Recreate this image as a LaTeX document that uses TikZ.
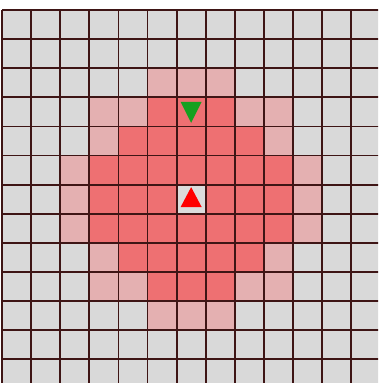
\documentclass[tikz,border=0pt]{standalone}
\usetikzlibrary{calc}
\definecolor{cellgrey}{HTML}{D9D9D9}
\definecolor{cellpink}{HTML}{E4B0B1}
\definecolor{cellred}{HTML}{EE7072}
\definecolor{gridline}{HTML}{3E1515}
\definecolor{goalgreen}{HTML}{16A020}
\definecolor{startred}{HTML}{FF0000}
\definecolor{centergrey}{HTML}{DCDCDC}
\tikzset{
  gridstroke/.style={draw=gridline, line width=1.8pt},
}
\begin{document}
\begin{tikzpicture}[x=1pt,y=-1pt]
\useasboundingbox (0,0) rectangle (378,383);
\clip (0,0) rectangle (378,383);
\def\cs{29.1}
\def\ox{2}
\def\oy{10}
\foreach \i in {0,...,12}{
  \foreach \j in {0,...,12}{
    \pgfmathtruncatemacro{\dd}{(\i-6)*(\i-6)+(\j-6)*(\j-6)}
    \ifnum\dd>18
      \def\cc{cellgrey}
    \else\ifnum\dd>10
      \def\cc{cellpink}
    \else
      \def\cc{cellred}
    \fi\fi
    \ifnum\dd=0 \def\cc{centergrey}\fi
    \fill[\cc] (\ox+\i*\cs,\oy+\j*\cs) rectangle ++(\cs,\cs);
  }
}
\foreach \i in {0,...,13}{
  \draw[gridstroke] (\ox+\i*\cs,\oy) -- (\ox+\i*\cs,\oy+13*\cs);
  \draw[gridstroke] (\ox,\oy+\i*\cs) -- (\ox+13*\cs,\oy+\i*\cs);
}
% goal (green, pointing down) in column 6, row 3
\fill[goalgreen] (\ox+6*\cs+4,\oy+3*\cs+4.5) -- (\ox+6*\cs+\cs-4,\oy+3*\cs+4.5) -- (\ox+6*\cs+\cs/2,\oy+3*\cs+25.5) -- cycle;
% start (red, pointing up) in column 6, row 6
\fill[startred] (\ox+6*\cs+4,\oy+6*\cs+22.5) -- (\ox+6*\cs+\cs-4,\oy+6*\cs+22.5) -- (\ox+6*\cs+\cs/2,\oy+6*\cs+2.5) -- cycle;
\end{tikzpicture}
\end{document}
